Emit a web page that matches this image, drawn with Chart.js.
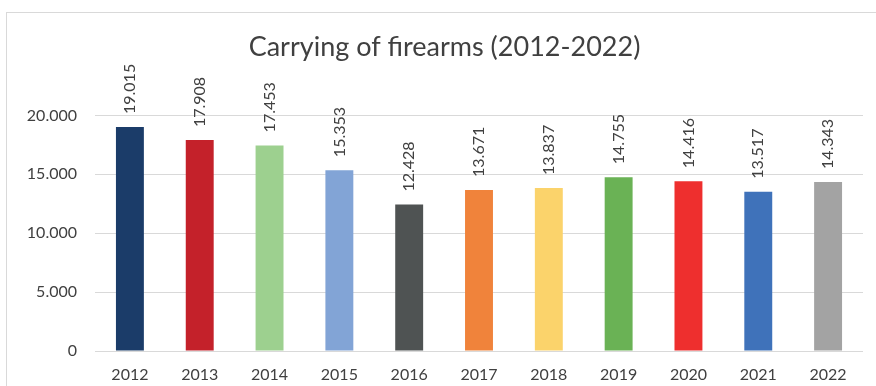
<!DOCTYPE html>
<html>
<head>
<meta charset="utf-8">
<script src="https://cdn.jsdelivr.net/npm/chart.js@4"></script>
<style>
  html, body { margin: 0; padding: 0; background: #fff; }
  #wrap { width: 876px; height: 386px; position: relative; }
</style>
</head>
<body>
<div id="wrap"><canvas id="myChart"></canvas></div>
<script>
// chart data
const years = ["2012", "2013", "2014", "2015", "2016", "2017", "2018", "2019", "2020", "2021", "2022"];
const cases = [19015, 17908, 17453, 15353, 12428, 13671, 13837, 14755, 14416, 13517, 14343];
const barColors = ["#1b3c69", "#c4212a", "#9dd08f", "#82a4d6", "#4f5353", "#f0833b",
                   "#fbd36b", "#6ab255", "#ee2f2e", "#3f72ba", "#a3a3a3"];
const yTicks = [0, 5000, 10000, 15000, 20000];

const FONT = "Lato, 'Open Sans', sans-serif";
const TEXT = "#404040";

// 19015 -> "19.015"
function fmt(v) {
  return String(v).replace(/\B(?=(\d{3})+(?!\d))/g, ".");
}

// rotated value labels above each bar
const barLabels = {
  id: "barLabels",
  afterDatasetsDraw(chart) {
    const ctx = chart.ctx;
    const meta = chart.getDatasetMeta(0);
    ctx.save();
    ctx.font = "16px " + FONT;
    ctx.fillStyle = TEXT;
    ctx.textAlign = "left";
    ctx.textBaseline = "middle";
    meta.data.forEach((bar, i) => {
      ctx.save();
      ctx.translate(bar.x, bar.y - 13);
      ctx.rotate(-Math.PI / 2);
      ctx.fillText(fmt(cases[i]), 0, 0);
      ctx.restore();
    });
    ctx.restore();
  }
};

// light frame round the chart (top and left edges show)
const frame = {
  id: "frame",
  beforeDraw(chart) {
    const ctx = chart.ctx;
    ctx.save();
    ctx.strokeStyle = "#d9d9d9";
    ctx.lineWidth = 1;
    ctx.strokeRect(6.5, 12.5, chart.width + 10, chart.height + 10);
    ctx.restore();
  }
};

const ctx = document.getElementById("myChart").getContext("2d");
const myChart = new Chart(ctx, {
  type: "bar",
  data: {
    labels: years,
    datasets: [{
      label: "Carrying of firearms",
      data: cases,
      backgroundColor: barColors,
      barPercentage: 0.4,
      categoryPercentage: 1.0
    }]
  },
  options: {
    responsive: true,
    maintainAspectRatio: false,
    animation: false,
    // left padding + narrower y axis keeps the title centred like the original
    layout: { padding: { left: 26, right: 13, top: 0, bottom: 0 } },
    plugins: {
      legend: { display: false },
      tooltip: { enabled: false },
      title: {
        display: true,
        text: "Carrying of firearms (2012-2022)",
        color: TEXT,
        font: { family: FONT, size: 27, weight: "normal" },
        padding: { top: 31, bottom: 52 }
      }
    },
    scales: {
      x: {
        afterFit(scale) { scale.height = 35; },
        grid: { display: false, drawTicks: false },
        border: { display: false },
        ticks: { color: TEXT, font: { family: FONT, size: 16 }, padding: 14 }
      },
      y: {
        min: 0,
        max: 20000,
        afterBuildTicks(scale) {
          scale.ticks = yTicks.map(v => ({ value: v }));
        },
        afterFit(scale) { scale.width = 69; },
        grid: { color: "#d9d9d9", lineWidth: 1, drawTicks: false },
        border: { display: false },
        ticks: {
          color: TEXT,
          font: { family: FONT, size: 16 },
          padding: 18,
          callback: v => fmt(v)
        }
      }
    }
  },
  plugins: [frame, barLabels]
});
</script>
</body>
</html>
